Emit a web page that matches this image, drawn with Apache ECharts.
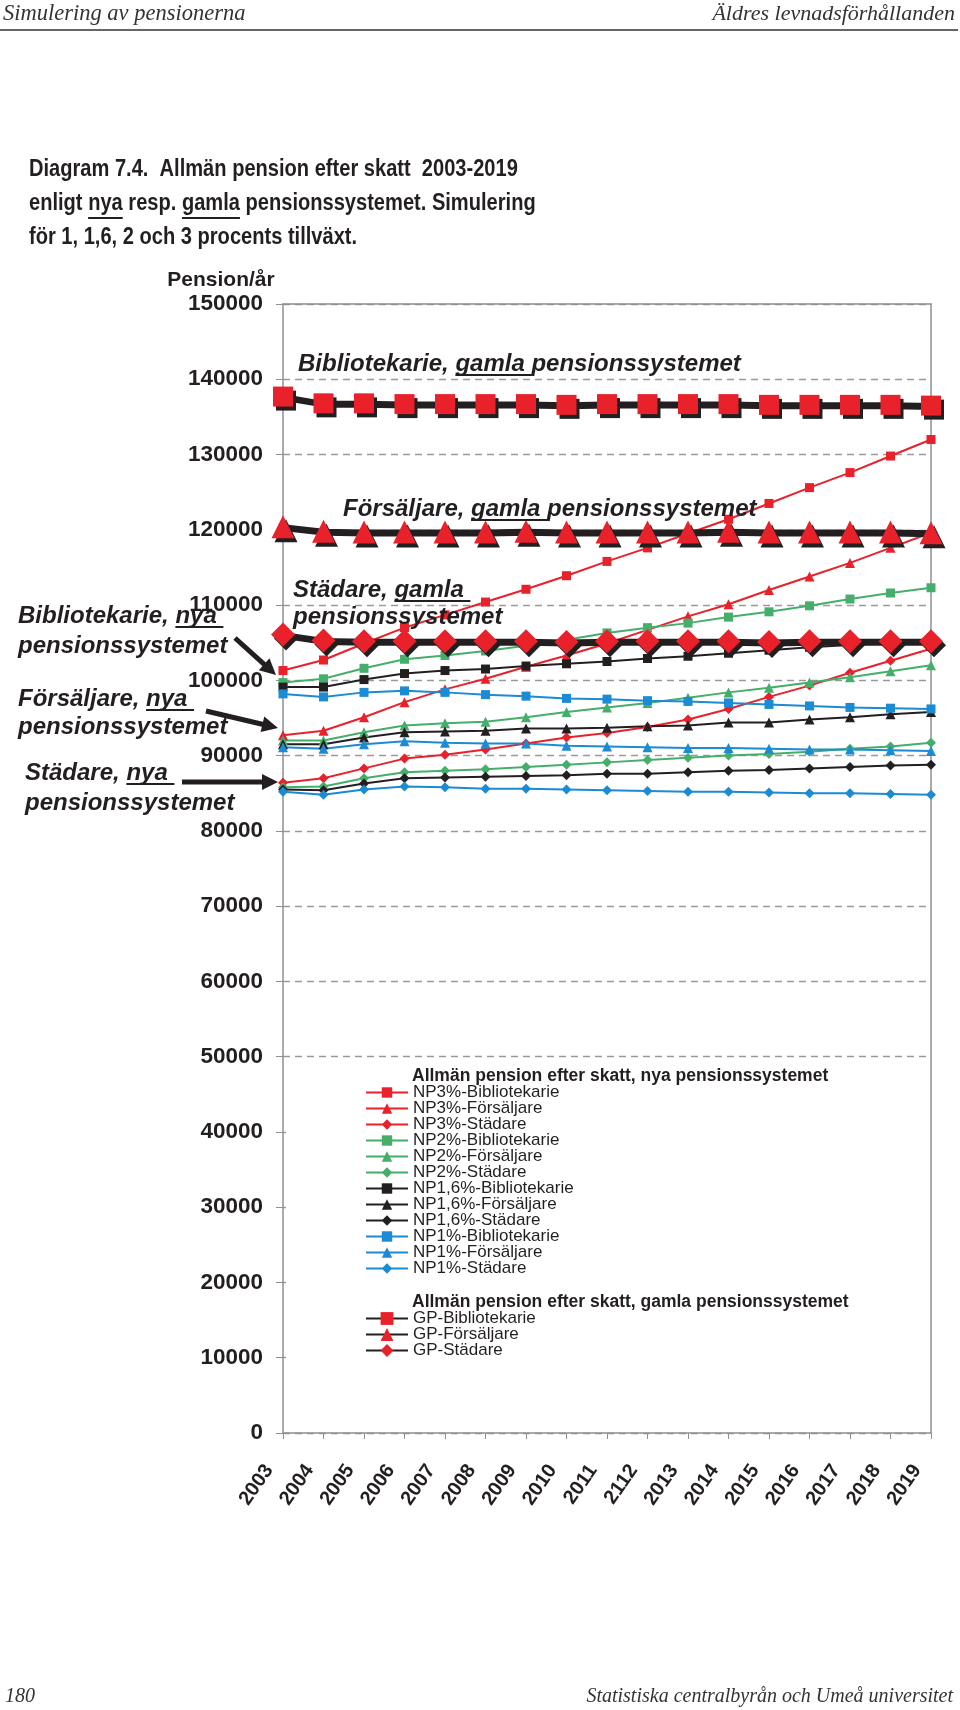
<!DOCTYPE html>
<html><head><meta charset="utf-8">
<script src="https://cdn.jsdelivr.net/npm/echarts@6/dist/echarts.min.js"></script>
<style>html,body{margin:0;padding:0;background:#fff}#c{width:960px;height:1710px}</style>
</head><body><div id="c"></div>
<script>
// ---------- data ----------
const years = ['2003','2004','2005','2006','2007','2008','2009','2010','2011','2112','2013','2014','2015','2016','2017','2018','2019'];
const yMin = 0, yMax = 150000, yStep = 10000;

const np3Bib  = [101300,102700,104900,107000,108700,110400,112100,113900,115800,117600,119500,121400,123500,125600,127600,129800,132000];
const np3Fors = [92700,93300,95100,97100,98800,100200,101800,103300,104900,106700,108500,110100,112000,113800,115600,117600,119600];
const np3Stad = [86400,87000,88300,89600,90100,90800,91600,92400,93000,93800,94800,96200,97800,99300,101000,102600,104200];
const np2Bib  = [99700,100200,101600,102800,103300,103900,104600,105400,106300,107000,107600,108400,109100,109900,110800,111600,112300];
const np2Fors = [92000,92000,93100,94000,94300,94500,95100,95800,96400,97000,97700,98400,99000,99700,100400,101200,102000];
const np2Stad = [85800,85900,87000,87800,88000,88200,88500,88800,89100,89400,89700,90000,90200,90500,90900,91200,91700];
const np16Bib  = [99100,99100,100100,100900,101300,101500,101900,102200,102500,102900,103200,103600,104000,104400,104700,105000,105300];
const np16Fors = [91500,91500,92400,93100,93200,93300,93600,93600,93700,93900,94000,94400,94400,94800,95100,95500,95800];
const np16Stad = [85500,85400,86300,87000,87100,87200,87300,87400,87600,87600,87800,88000,88100,88300,88500,88700,88800];
const np1Bib  = [98200,97800,98400,98600,98400,98100,97900,97600,97500,97300,97200,97000,96800,96600,96400,96300,96200];
const np1Fors = [91100,90900,91500,91900,91700,91600,91600,91300,91200,91100,91000,91000,90900,90800,90800,90700,90600];
const np1Stad = [85200,84800,85500,85900,85800,85600,85600,85500,85400,85300,85200,85200,85100,85000,85000,84900,84800];
const gpBib  = [137700,136800,136800,136700,136700,136700,136700,136600,136700,136700,136700,136700,136600,136600,136600,136600,136500];
const gpFors = [120400,119800,119700,119700,119700,119700,119800,119700,119700,119700,119700,119800,119700,119700,119700,119700,119600];
const gpStad = [106100,105300,105200,105200,105200,105200,105200,105100,105200,105200,105200,105200,105100,105200,105200,105200,105200];

const npNames = ['NP3%-Bibliotekarie','NP3%-Försäljare','NP3%-Städare','NP2%-Bibliotekarie','NP2%-Försäljare','NP2%-Städare',
  'NP1,6%-Bibliotekarie','NP1,6%-Försäljare','NP1,6%-Städare','NP1%-Bibliotekarie','NP1%-Försäljare','NP1%-Städare'];
const npData = [np3Bib,np3Fors,np3Stad,np2Bib,np2Fors,np2Stad,np16Bib,np16Fors,np16Stad,np1Bib,np1Fors,np1Stad];
const gpNames = ['GP-Bibliotekarie','GP-Försäljare','GP-Städare'];
const gpData = [gpBib,gpFors,gpStad];

// ---------- styles ----------
const RED='#E8212A', GREEN='#45AE6B', BLACK='#231F20', BLUE='#1B8BD3';
const npColors=[RED,RED,RED,GREEN,GREEN,GREEN,BLACK,BLACK,BLACK,BLUE,BLUE,BLUE];
const shapes=['rect','triangle','diamond'];
const npSizes=[9,10,10];
const gpSizes=[20,23,24];
const SANS='"Liberation Sans", Arial, Helvetica, sans-serif';
const SERIF='"Liberation Serif", "DejaVu Serif", serif';

const series=[];
npNames.forEach((n,i)=>{
  series.push({name:n,type:'line',data:npData[i],symbol:shapes[i%3],symbolSize:npSizes[i%3],
    lineStyle:{color:npColors[i],width:2},itemStyle:{color:npColors[i]},z:3});
});
gpNames.forEach((n,i)=>{
  series.push({name:n,type:'line',data:gpData[i],symbol:shapes[i],symbolSize:gpSizes[i],
    lineStyle:{color:BLACK,width:5,shadowColor:BLACK,shadowOffsetX:2,shadowOffsetY:2,shadowBlur:0},
    itemStyle:{color:RED,shadowColor:BLACK,shadowOffsetX:3,shadowOffsetY:4,shadowBlur:0},z:5});
});

// ---------- graphics ----------
const mctx=document.createElement('canvas').getContext('2d');
function tw(s,font){mctx.font=font;return mctx.measureText(s).width;}
const g=[];
function txt(x,y,s,font,opts){
  opts=opts||{};
  g.push({type:'text',x:x,y:y,z:opts.z||20,scaleX:opts.scaleX||1,style:{text:s,font:font,fill:opts.fill||BLACK,
    align:opts.align||'left',verticalAlign:'middle',textAlign:opts.align||'left',textVerticalAlign:'middle'}});
}
function uline(x1,x2,y){
  g.push({type:'line',z:20,shape:{x1:x1,y1:y,x2:x2,y2:y},style:{stroke:BLACK,lineWidth:2}});
}
const ANF='italic bold 24px '+SANS;
function ann(x,y,pre,word,post){
  txt(x,y,pre+word+' '+post,ANF);
  const a=x+tw(pre,ANF), b=a+tw(word+' ',ANF);
  uline(a,b,y+11);
}
function arrow(x1,y1,x2,y2){
  const dx=x2-x1, dy=y2-y1, L=Math.hypot(dx,dy), ux=dx/L, uy=dy/L;
  const hl=16, hw=8;
  const bx=x2-ux*hl, by=y2-uy*hl;
  g.push({type:'line',z:20,shape:{x1:x1,y1:y1,x2:bx+ux*2,y2:by+uy*2},style:{stroke:BLACK,lineWidth:5}});
  g.push({type:'polygon',z:20,shape:{points:[[x2,y2],[bx-uy*hw,by+ux*hw],[bx+uy*hw,by-ux*hw]]},style:{fill:BLACK}});
}

// header / footer
txt(3,14,'Simulering av pensionerna','italic 22.5px '+SERIF,{fill:'#333'});
txt(955,14,'Äldres levnadsförhållanden','italic 22px '+SERIF,{fill:'#333',align:'right'});
g.push({type:'line',z:20,shape:{x1:0,y1:30,x2:958,y2:30},style:{stroke:'#666',lineWidth:2}});
txt(5,1697,'180','italic 20px '+SERIF,{fill:'#333'});
txt(953,1697,'Statistiska centralbyrån och Umeå universitet','italic 20px '+SERIF,{fill:'#333',align:'right'});

// title: slightly condensed bold sans
const TF='bold 23px '+SANS;
const L1='Diagram 7.4.  Allmän pension efter skatt  2003-2019';
const TS=(tw(L1,'bold 20px '+SANS)+2)/tw(L1,TF);
txt(29,170,L1,TF,{scaleX:TS});
txt(29,204,'enligt nya resp. gamla pensionssystemet. Simulering',TF,{scaleX:TS});
txt(29,238,'för 1, 1,6, 2 och 3 procents tillväxt.',TF,{scaleX:TS});
{ const a=29+TS*tw('enligt ',TF); uline(a,a+TS*tw('nya',TF),218);
  const b=29+TS*tw('enligt nya resp. ',TF); uline(b,b+TS*tw('gamla',TF),218); }
txt(221,280,'Pension/år','bold 21px '+SANS,{align:'center'});

// annotations
ann(298,364,'Bibliotekarie, ','gamla','pensionssystemet');
ann(343,509,'Försäljare, ','gamla','pensionssystemet');
ann(293,590,'Städare, ','gamla','');
txt(293,617,'pensionssystemet',ANF);
ann(18,616,'Bibliotekarie, ','nya','');
txt(18,646,'pensionssystemet',ANF);
ann(18,699,'Försäljare, ','nya','');
txt(18,727,'pensionssystemet',ANF);
ann(25,773,'Städare, ','nya','');
txt(25,803,'pensionssystemet',ANF);
arrow(235,638,276,675);
arrow(206,711,278,728);
arrow(182,782,278,782);

// legend box (white) and headings
g.push({type:'rect',z:1,shape:{x:286,y:1062,width:644,height:362},style:{fill:'#fff'}});
txt(412,1076,'Allmän pension efter skatt, nya pensionssystemet','bold 17.5px '+SANS);
txt(412,1302,'Allmän pension efter skatt, gamla pensionssystemet','bold 17.5px '+SANS);

const axisGray='#8f8f8f';
const option={
  animation:false,
  backgroundColor:'#fff',
  grid:{left:283,right:29,top:304,bottom:277,containLabel:false},
  xAxis:[{type:'category',data:years,boundaryGap:false,
      axisLine:{lineStyle:{color:axisGray,width:1.5}},
      axisTick:{show:true,length:6,lineStyle:{color:axisGray}},
      axisLabel:{rotate:55,margin:14,padding:[0,24,0,0],interval:0,color:BLACK,fontFamily:SANS,fontWeight:'bold',fontSize:20},
      splitLine:{show:false}},
    {type:'category',data:years,boundaryGap:false,position:'top',
      axisLine:{show:true,onZero:false,lineStyle:{color:axisGray,width:1.5}},axisTick:{show:false},axisLabel:{show:false},splitLine:{show:false}}],
  yAxis:[{type:'value',min:yMin,max:yMax,interval:yStep,
      axisLine:{show:true,onZero:false,lineStyle:{color:axisGray,width:1.5}},
      axisTick:{show:true,length:7,lineStyle:{color:axisGray}},
      axisLabel:{margin:20,color:BLACK,fontFamily:SANS,fontWeight:'bold',fontSize:22.5,formatter:v=>String(v)},
      splitLine:{show:true,lineStyle:{color:'#9a9a9a',type:[7,5],width:1.3}}},
    {type:'value',min:yMin,max:yMax,interval:yStep,position:'right',
      axisLine:{show:true,onZero:false,lineStyle:{color:axisGray,width:1.5}},axisTick:{show:false},axisLabel:{show:false},splitLine:{show:false}}],
  legend:[
    {data:npNames,orient:'vertical',left:365,top:1084,itemWidth:42,itemHeight:13,itemGap:-1,padding:0,
      textStyle:{fontFamily:SANS,fontSize:17,lineHeight:13,color:BLACK},selectedMode:false},
    {data:gpNames,orient:'vertical',left:365,top:1310,itemWidth:42,itemHeight:16,itemGap:-1,padding:0,
      textStyle:{fontFamily:SANS,fontSize:17,lineHeight:16,color:BLACK},selectedMode:false}
  ],
  graphic:{elements:g},
  series:series
};
const chart=echarts.init(document.getElementById('c'),null,{renderer:'canvas'});
chart.setOption(option);
</script></body></html>
